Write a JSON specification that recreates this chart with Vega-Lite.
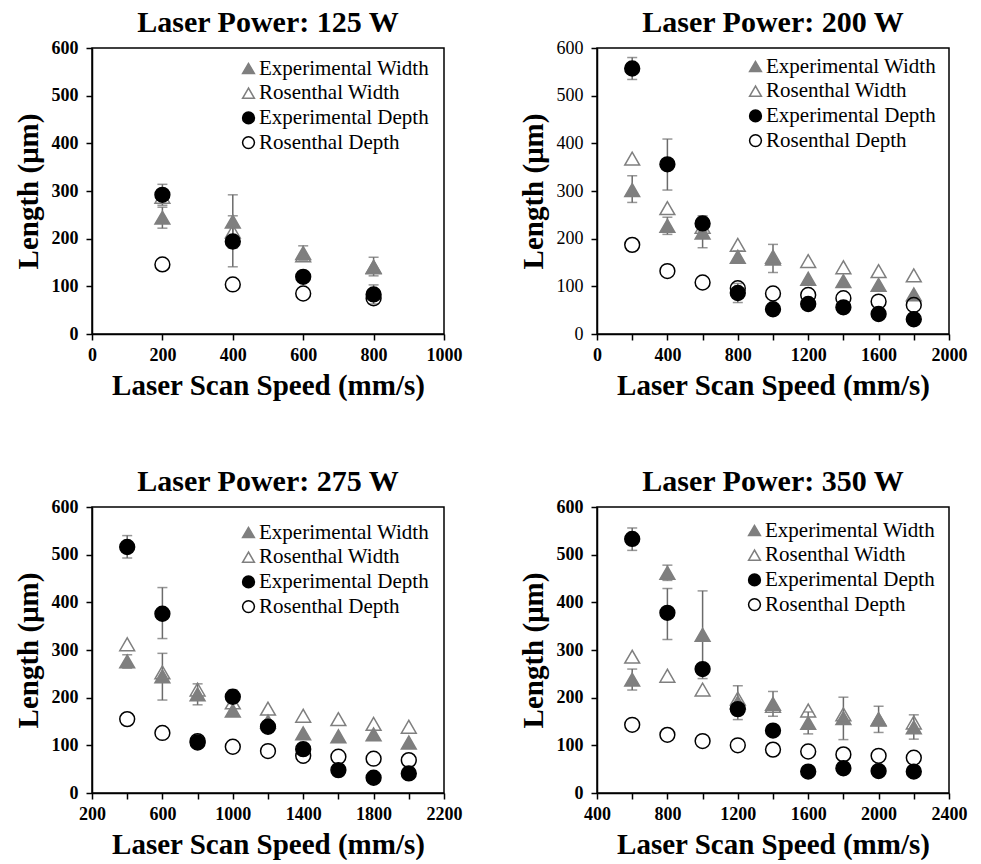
{
  "$schema": "https://vega.github.io/schema/vega-lite/v6.json",
  "padding": {"left": 13, "top": 7, "right": 5, "bottom": 0},
  "background": "white",
  "datasets": {
    "melt": [
      {"power": 125, "speed": 200, "series": "Experimental Width", "value": 244, "lo": 222, "hi": 266},
      {"power": 125, "speed": 400, "series": "Experimental Width", "value": 236, "lo": 180, "hi": 292},
      {"power": 125, "speed": 600, "series": "Experimental Width", "value": 170, "lo": 155, "hi": 185},
      {"power": 125, "speed": 800, "series": "Experimental Width", "value": 141, "lo": 122, "hi": 161},
      {"power": 125, "speed": 200, "series": "Rosenthal Width", "value": 288},
      {"power": 125, "speed": 400, "series": "Rosenthal Width", "value": 215},
      {"power": 125, "speed": 600, "series": "Rosenthal Width", "value": 165},
      {"power": 125, "speed": 800, "series": "Rosenthal Width", "value": 140},
      {"power": 125, "speed": 200, "series": "Experimental Depth", "value": 292, "lo": 270, "hi": 314},
      {"power": 125, "speed": 400, "series": "Experimental Depth", "value": 194, "lo": 141, "hi": 248},
      {"power": 125, "speed": 600, "series": "Experimental Depth", "value": 120},
      {"power": 125, "speed": 800, "series": "Experimental Depth", "value": 83, "lo": 63, "hi": 103},
      {"power": 125, "speed": 200, "series": "Rosenthal Depth", "value": 146},
      {"power": 125, "speed": 400, "series": "Rosenthal Depth", "value": 104},
      {"power": 125, "speed": 600, "series": "Rosenthal Depth", "value": 85},
      {"power": 125, "speed": 800, "series": "Rosenthal Depth", "value": 75},

      {"power": 200, "speed": 200, "series": "Experimental Width", "value": 302, "lo": 276, "hi": 332},
      {"power": 200, "speed": 400, "series": "Experimental Width", "value": 227, "lo": 209, "hi": 245},
      {"power": 200, "speed": 600, "series": "Experimental Width", "value": 213, "lo": 181, "hi": 245},
      {"power": 200, "speed": 800, "series": "Experimental Width", "value": 162, "lo": 150, "hi": 174},
      {"power": 200, "speed": 1000, "series": "Experimental Width", "value": 158, "lo": 129, "hi": 188},
      {"power": 200, "speed": 1200, "series": "Experimental Width", "value": 116},
      {"power": 200, "speed": 1400, "series": "Experimental Width", "value": 111},
      {"power": 200, "speed": 1600, "series": "Experimental Width", "value": 103},
      {"power": 200, "speed": 1800, "series": "Experimental Width", "value": 83},
      {"power": 200, "speed": 200, "series": "Rosenthal Width", "value": 368},
      {"power": 200, "speed": 400, "series": "Rosenthal Width", "value": 264},
      {"power": 200, "speed": 600, "series": "Rosenthal Width", "value": 225},
      {"power": 200, "speed": 800, "series": "Rosenthal Width", "value": 187},
      {"power": 200, "speed": 1000, "series": "Rosenthal Width", "value": 162},
      {"power": 200, "speed": 1200, "series": "Rosenthal Width", "value": 153},
      {"power": 200, "speed": 1400, "series": "Rosenthal Width", "value": 140},
      {"power": 200, "speed": 1600, "series": "Rosenthal Width", "value": 132},
      {"power": 200, "speed": 1800, "series": "Rosenthal Width", "value": 123},
      {"power": 200, "speed": 200, "series": "Experimental Depth", "value": 557, "lo": 534, "hi": 580},
      {"power": 200, "speed": 400, "series": "Experimental Depth", "value": 356, "lo": 302, "hi": 409},
      {"power": 200, "speed": 600, "series": "Experimental Depth", "value": 232, "lo": 216, "hi": 248},
      {"power": 200, "speed": 800, "series": "Experimental Depth", "value": 86, "lo": 66, "hi": 106},
      {"power": 200, "speed": 1000, "series": "Experimental Depth", "value": 52},
      {"power": 200, "speed": 1200, "series": "Experimental Depth", "value": 63},
      {"power": 200, "speed": 1400, "series": "Experimental Depth", "value": 56},
      {"power": 200, "speed": 1600, "series": "Experimental Depth", "value": 42},
      {"power": 200, "speed": 1800, "series": "Experimental Depth", "value": 31},
      {"power": 200, "speed": 200, "series": "Rosenthal Depth", "value": 187},
      {"power": 200, "speed": 400, "series": "Rosenthal Depth", "value": 132},
      {"power": 200, "speed": 600, "series": "Rosenthal Depth", "value": 108},
      {"power": 200, "speed": 800, "series": "Rosenthal Depth", "value": 96},
      {"power": 200, "speed": 1000, "series": "Rosenthal Depth", "value": 85},
      {"power": 200, "speed": 1200, "series": "Rosenthal Depth", "value": 82},
      {"power": 200, "speed": 1400, "series": "Rosenthal Depth", "value": 75},
      {"power": 200, "speed": 1600, "series": "Rosenthal Depth", "value": 68},
      {"power": 200, "speed": 1800, "series": "Rosenthal Depth", "value": 61},

      {"power": 275, "speed": 400, "series": "Experimental Width", "value": 276, "lo": 262, "hi": 290},
      {"power": 275, "speed": 600, "series": "Experimental Width", "value": 245, "lo": 195, "hi": 293},
      {"power": 275, "speed": 800, "series": "Experimental Width", "value": 207, "lo": 185, "hi": 229},
      {"power": 275, "speed": 1000, "series": "Experimental Width", "value": 173},
      {"power": 275, "speed": 1200, "series": "Experimental Width", "value": 150},
      {"power": 275, "speed": 1400, "series": "Experimental Width", "value": 125},
      {"power": 275, "speed": 1600, "series": "Experimental Width", "value": 119},
      {"power": 275, "speed": 1800, "series": "Experimental Width", "value": 123},
      {"power": 275, "speed": 2000, "series": "Experimental Width", "value": 106},
      {"power": 275, "speed": 400, "series": "Rosenthal Width", "value": 312},
      {"power": 275, "speed": 600, "series": "Rosenthal Width", "value": 253},
      {"power": 275, "speed": 800, "series": "Rosenthal Width", "value": 217},
      {"power": 275, "speed": 1000, "series": "Rosenthal Width", "value": 190},
      {"power": 275, "speed": 1200, "series": "Rosenthal Width", "value": 177},
      {"power": 275, "speed": 1400, "series": "Rosenthal Width", "value": 162},
      {"power": 275, "speed": 1600, "series": "Rosenthal Width", "value": 155},
      {"power": 275, "speed": 1800, "series": "Rosenthal Width", "value": 145},
      {"power": 275, "speed": 2000, "series": "Rosenthal Width", "value": 139},
      {"power": 275, "speed": 400, "series": "Experimental Depth", "value": 516, "lo": 493, "hi": 540},
      {"power": 275, "speed": 600, "series": "Experimental Depth", "value": 376, "lo": 324, "hi": 431},
      {"power": 275, "speed": 800, "series": "Experimental Depth", "value": 106},
      {"power": 275, "speed": 1000, "series": "Experimental Depth", "value": 202, "lo": 188, "hi": 216},
      {"power": 275, "speed": 1200, "series": "Experimental Depth", "value": 139},
      {"power": 275, "speed": 1400, "series": "Experimental Depth", "value": 92},
      {"power": 275, "speed": 1600, "series": "Experimental Depth", "value": 48},
      {"power": 275, "speed": 1800, "series": "Experimental Depth", "value": 32},
      {"power": 275, "speed": 2000, "series": "Experimental Depth", "value": 41},
      {"power": 275, "speed": 400, "series": "Rosenthal Depth", "value": 155},
      {"power": 275, "speed": 600, "series": "Rosenthal Depth", "value": 126},
      {"power": 275, "speed": 800, "series": "Rosenthal Depth", "value": 109},
      {"power": 275, "speed": 1000, "series": "Rosenthal Depth", "value": 97},
      {"power": 275, "speed": 1200, "series": "Rosenthal Depth", "value": 88},
      {"power": 275, "speed": 1400, "series": "Rosenthal Depth", "value": 78},
      {"power": 275, "speed": 1600, "series": "Rosenthal Depth", "value": 76},
      {"power": 275, "speed": 1800, "series": "Rosenthal Depth", "value": 72},
      {"power": 275, "speed": 2000, "series": "Rosenthal Depth", "value": 69},

      {"power": 350, "speed": 600, "series": "Experimental Width", "value": 238, "lo": 216, "hi": 260},
      {"power": 350, "speed": 800, "series": "Experimental Width", "value": 462, "lo": 446, "hi": 478},
      {"power": 350, "speed": 1000, "series": "Experimental Width", "value": 332, "lo": 240, "hi": 424},
      {"power": 350, "speed": 1200, "series": "Experimental Width", "value": 190, "lo": 154, "hi": 225},
      {"power": 350, "speed": 1400, "series": "Experimental Width", "value": 187, "lo": 161, "hi": 213},
      {"power": 350, "speed": 1600, "series": "Experimental Width", "value": 147, "lo": 124, "hi": 170},
      {"power": 350, "speed": 1800, "series": "Experimental Width", "value": 157, "lo": 112, "hi": 201},
      {"power": 350, "speed": 2000, "series": "Experimental Width", "value": 154, "lo": 127, "hi": 182},
      {"power": 350, "speed": 2200, "series": "Experimental Width", "value": 138, "lo": 113, "hi": 164},
      {"power": 350, "speed": 600, "series": "Rosenthal Width", "value": 286},
      {"power": 350, "speed": 800, "series": "Rosenthal Width", "value": 246},
      {"power": 350, "speed": 1000, "series": "Rosenthal Width", "value": 217},
      {"power": 350, "speed": 1200, "series": "Rosenthal Width", "value": 198},
      {"power": 350, "speed": 1400, "series": "Rosenthal Width", "value": 183},
      {"power": 350, "speed": 1600, "series": "Rosenthal Width", "value": 173},
      {"power": 350, "speed": 1800, "series": "Rosenthal Width", "value": 165},
      {"power": 350, "speed": 2000, "series": "Rosenthal Width", "value": 155},
      {"power": 350, "speed": 2200, "series": "Rosenthal Width", "value": 148},
      {"power": 350, "speed": 600, "series": "Experimental Depth", "value": 533, "lo": 509, "hi": 556},
      {"power": 350, "speed": 800, "series": "Experimental Depth", "value": 378, "lo": 322, "hi": 429},
      {"power": 350, "speed": 1000, "series": "Experimental Depth", "value": 260},
      {"power": 350, "speed": 1200, "series": "Experimental Depth", "value": 176},
      {"power": 350, "speed": 1400, "series": "Experimental Depth", "value": 131},
      {"power": 350, "speed": 1600, "series": "Experimental Depth", "value": 45},
      {"power": 350, "speed": 1800, "series": "Experimental Depth", "value": 52},
      {"power": 350, "speed": 2000, "series": "Experimental Depth", "value": 46},
      {"power": 350, "speed": 2200, "series": "Experimental Depth", "value": 45},
      {"power": 350, "speed": 600, "series": "Rosenthal Depth", "value": 143},
      {"power": 350, "speed": 800, "series": "Rosenthal Depth", "value": 122},
      {"power": 350, "speed": 1000, "series": "Rosenthal Depth", "value": 109},
      {"power": 350, "speed": 1200, "series": "Rosenthal Depth", "value": 100},
      {"power": 350, "speed": 1400, "series": "Rosenthal Depth", "value": 91},
      {"power": 350, "speed": 1600, "series": "Rosenthal Depth", "value": 87},
      {"power": 350, "speed": 1800, "series": "Rosenthal Depth", "value": 81},
      {"power": 350, "speed": 2000, "series": "Rosenthal Depth", "value": 78},
      {"power": 350, "speed": 2200, "series": "Rosenthal Depth", "value": 74}
    ]
  },
  "data": {"name": "melt"},
  "columns": 2,
  "spacing": {"column": 55, "row": 65},
  "resolve": {
    "scale": {"shape": "independent", "fill": "independent", "stroke": "independent"},
    "legend": {"shape": "independent", "fill": "independent", "stroke": "independent"}
  },
  "concat": [
    {
      "title": "Laser Power: 125 W",
      "width": 352, "height": 286,
      "transform": [{"filter": "datum.power === 125"}],
      "encoding": {
        "x": {"field": "speed", "type": "quantitative", "title": "Laser Scan Speed (mm/s)",
              "scale": {"domain": [0, 1000], "nice": false, "zero": false},
              "axis": {"values": [0, 200, 400, 600, 800, 1000], "format": "d"}}
      },
      "layer": [
        {"transform": [{"filter": "isValid(datum.lo)"}],
         "mark": {"type": "rule", "color": "#6b6b6b", "strokeWidth": 1.5},
         "encoding": {"y": {"field": "lo", "type": "quantitative", "title": "Length (μm)", "scale": {"domain": [0, 600]}}, "y2": {"field": "hi"}}},
        {"transform": [{"filter": "isValid(datum.lo)"}],
         "mark": {"type": "tick", "orient": "horizontal", "color": "#6b6b6b", "thickness": 1.5, "size": 10},
         "encoding": {"y": {"field": "lo", "type": "quantitative", "title": "Length (μm)", "scale": {"domain": [0, 600]}}}},
        {"transform": [{"filter": "isValid(datum.hi)"}],
         "mark": {"type": "tick", "orient": "horizontal", "color": "#6b6b6b", "thickness": 1.5, "size": 10},
         "encoding": {"y": {"field": "hi", "type": "quantitative", "title": "Length (μm)", "scale": {"domain": [0, 600]}}}},
        {"mark": {"type": "point", "opacity": 1, "strokeWidth": 1.5, "size": 220},
         "encoding": {
           "y": {"field": "value", "type": "quantitative", "title": "Length (μm)", "scale": {"domain": [0, 600]}, "axis": {"values": [0, 100, 200, 300, 400, 500, 600]}},
           "shape": {"field": "series", "type": "nominal", "scale": {"domain": ["Experimental Width", "Rosenthal Width", "Experimental Depth", "Rosenthal Depth"], "range": ["triangle-up", "triangle-up", "circle", "circle"]}, "legend": {"title": null, "legendX": 146, "legendY": 10}},
           "fill": {"field": "series", "type": "nominal", "scale": {"domain": ["Experimental Width", "Rosenthal Width", "Experimental Depth", "Rosenthal Depth"], "range": ["#7f7f7f", "transparent", "#000000", "transparent"]}, "legend": {"title": null, "legendX": 146, "legendY": 10}},
           "stroke": {"field": "series", "type": "nominal", "scale": {"domain": ["Experimental Width", "Rosenthal Width", "Experimental Depth", "Rosenthal Depth"], "range": ["#7f7f7f", "#7f7f7f", "#000000", "#000000"]}, "legend": {"title": null, "legendX": 146, "legendY": 10}}
         }}
      ]
    },
    {
      "title": "Laser Power: 200 W",
      "width": 352, "height": 286,
      "transform": [{"filter": "datum.power === 200"}],
      "encoding": {
        "x": {"field": "speed", "type": "quantitative", "title": "Laser Scan Speed (mm/s)",
              "scale": {"domain": [0, 2000], "nice": false, "zero": false},
              "axis": {"values": [0, 200, 400, 600, 800, 1000, 1200, 1400, 1600, 1800, 2000], "format": "d", "labelExpr": "datum.value % 400 === 0 ? datum.label : ''"}}
      },
      "layer": [
        {"transform": [{"filter": "isValid(datum.lo)"}],
         "mark": {"type": "rule", "color": "#6b6b6b", "strokeWidth": 1.5},
         "encoding": {"y": {"field": "lo", "type": "quantitative", "title": "Length (μm)", "scale": {"domain": [0, 600]}}, "y2": {"field": "hi"}}},
        {"transform": [{"filter": "isValid(datum.lo)"}],
         "mark": {"type": "tick", "orient": "horizontal", "color": "#6b6b6b", "thickness": 1.5, "size": 10},
         "encoding": {"y": {"field": "lo", "type": "quantitative", "title": "Length (μm)", "scale": {"domain": [0, 600]}}}},
        {"transform": [{"filter": "isValid(datum.hi)"}],
         "mark": {"type": "tick", "orient": "horizontal", "color": "#6b6b6b", "thickness": 1.5, "size": 10},
         "encoding": {"y": {"field": "hi", "type": "quantitative", "title": "Length (μm)", "scale": {"domain": [0, 600]}}}},
        {"mark": {"type": "point", "opacity": 1, "strokeWidth": 1.5, "size": 220},
         "encoding": {
           "y": {"field": "value", "type": "quantitative", "title": "Length (μm)", "scale": {"domain": [0, 600]}, "axis": {"values": [0, 100, 200, 300, 400, 500, 600], "labelFontWeight": "normal"}},
           "shape": {"field": "series", "type": "nominal", "scale": {"domain": ["Experimental Width", "Rosenthal Width", "Experimental Depth", "Rosenthal Depth"], "range": ["triangle-up", "triangle-up", "circle", "circle"]}, "legend": {"title": null, "legendX": 148, "legendY": 8}},
           "fill": {"field": "series", "type": "nominal", "scale": {"domain": ["Experimental Width", "Rosenthal Width", "Experimental Depth", "Rosenthal Depth"], "range": ["#7f7f7f", "transparent", "#000000", "transparent"]}, "legend": {"title": null, "legendX": 148, "legendY": 8}},
           "stroke": {"field": "series", "type": "nominal", "scale": {"domain": ["Experimental Width", "Rosenthal Width", "Experimental Depth", "Rosenthal Depth"], "range": ["#7f7f7f", "#7f7f7f", "#000000", "#000000"]}, "legend": {"title": null, "legendX": 148, "legendY": 8}}
         }}
      ]
    },
    {
      "title": "Laser Power: 275 W",
      "width": 352, "height": 286,
      "transform": [{"filter": "datum.power === 275"}],
      "encoding": {
        "x": {"field": "speed", "type": "quantitative", "title": "Laser Scan Speed (mm/s)",
              "scale": {"domain": [200, 2200], "nice": false, "zero": false},
              "axis": {"values": [200, 400, 600, 800, 1000, 1200, 1400, 1600, 1800, 2000, 2200], "format": "d", "labelExpr": "(datum.value - 200) % 400 === 0 ? datum.label : ''"}}
      },
      "layer": [
        {"transform": [{"filter": "isValid(datum.lo)"}],
         "mark": {"type": "rule", "color": "#6b6b6b", "strokeWidth": 1.5},
         "encoding": {"y": {"field": "lo", "type": "quantitative", "title": "Length (μm)", "scale": {"domain": [0, 600]}}, "y2": {"field": "hi"}}},
        {"transform": [{"filter": "isValid(datum.lo)"}],
         "mark": {"type": "tick", "orient": "horizontal", "color": "#6b6b6b", "thickness": 1.5, "size": 10},
         "encoding": {"y": {"field": "lo", "type": "quantitative", "title": "Length (μm)", "scale": {"domain": [0, 600]}}}},
        {"transform": [{"filter": "isValid(datum.hi)"}],
         "mark": {"type": "tick", "orient": "horizontal", "color": "#6b6b6b", "thickness": 1.5, "size": 10},
         "encoding": {"y": {"field": "hi", "type": "quantitative", "title": "Length (μm)", "scale": {"domain": [0, 600]}}}},
        {"mark": {"type": "point", "opacity": 1, "strokeWidth": 1.5, "size": 220},
         "encoding": {
           "y": {"field": "value", "type": "quantitative", "title": "Length (μm)", "scale": {"domain": [0, 600]}, "axis": {"values": [0, 100, 200, 300, 400, 500, 600]}},
           "shape": {"field": "series", "type": "nominal", "scale": {"domain": ["Experimental Width", "Rosenthal Width", "Experimental Depth", "Rosenthal Depth"], "range": ["triangle-up", "triangle-up", "circle", "circle"]}, "legend": {"title": null, "legendX": 146, "legendY": 15}},
           "fill": {"field": "series", "type": "nominal", "scale": {"domain": ["Experimental Width", "Rosenthal Width", "Experimental Depth", "Rosenthal Depth"], "range": ["#7f7f7f", "transparent", "#000000", "transparent"]}, "legend": {"title": null, "legendX": 146, "legendY": 15}},
           "stroke": {"field": "series", "type": "nominal", "scale": {"domain": ["Experimental Width", "Rosenthal Width", "Experimental Depth", "Rosenthal Depth"], "range": ["#7f7f7f", "#7f7f7f", "#000000", "#000000"]}, "legend": {"title": null, "legendX": 146, "legendY": 15}}
         }}
      ]
    },
    {
      "title": "Laser Power: 350 W",
      "width": 352, "height": 286,
      "transform": [{"filter": "datum.power === 350"}],
      "encoding": {
        "x": {"field": "speed", "type": "quantitative", "title": "Laser Scan Speed (mm/s)",
              "scale": {"domain": [400, 2400], "nice": false, "zero": false},
              "axis": {"values": [400, 600, 800, 1000, 1200, 1400, 1600, 1800, 2000, 2200, 2400], "format": "d", "labelExpr": "datum.value % 400 === 0 ? datum.label : ''"}}
      },
      "layer": [
        {"transform": [{"filter": "isValid(datum.lo)"}],
         "mark": {"type": "rule", "color": "#6b6b6b", "strokeWidth": 1.5},
         "encoding": {"y": {"field": "lo", "type": "quantitative", "title": "Length (μm)", "scale": {"domain": [0, 600]}}, "y2": {"field": "hi"}}},
        {"transform": [{"filter": "isValid(datum.lo)"}],
         "mark": {"type": "tick", "orient": "horizontal", "color": "#6b6b6b", "thickness": 1.5, "size": 10},
         "encoding": {"y": {"field": "lo", "type": "quantitative", "title": "Length (μm)", "scale": {"domain": [0, 600]}}}},
        {"transform": [{"filter": "isValid(datum.hi)"}],
         "mark": {"type": "tick", "orient": "horizontal", "color": "#6b6b6b", "thickness": 1.5, "size": 10},
         "encoding": {"y": {"field": "hi", "type": "quantitative", "title": "Length (μm)", "scale": {"domain": [0, 600]}}}},
        {"mark": {"type": "point", "opacity": 1, "strokeWidth": 1.5, "size": 220},
         "encoding": {
           "y": {"field": "value", "type": "quantitative", "title": "Length (μm)", "scale": {"domain": [0, 600]}, "axis": {"values": [0, 100, 200, 300, 400, 500, 600]}},
           "shape": {"field": "series", "type": "nominal", "scale": {"domain": ["Experimental Width", "Rosenthal Width", "Experimental Depth", "Rosenthal Depth"], "range": ["triangle-up", "triangle-up", "circle", "circle"]}, "legend": {"title": null, "legendX": 147, "legendY": 13}},
           "fill": {"field": "series", "type": "nominal", "scale": {"domain": ["Experimental Width", "Rosenthal Width", "Experimental Depth", "Rosenthal Depth"], "range": ["#7f7f7f", "transparent", "#000000", "transparent"]}, "legend": {"title": null, "legendX": 147, "legendY": 13}},
           "stroke": {"field": "series", "type": "nominal", "scale": {"domain": ["Experimental Width", "Rosenthal Width", "Experimental Depth", "Rosenthal Depth"], "range": ["#7f7f7f", "#7f7f7f", "#000000", "#000000"]}, "legend": {"title": null, "legendX": 147, "legendY": 13}}
         }}
      ]
    }
  ],
  "config": {
    "font": "Liberation Serif",
    "view": {"stroke": "black", "strokeWidth": 1.5},
    "axis": {
      "grid": false, "domainColor": "black", "domainWidth": 1.5,
      "tickColor": "black", "tickWidth": 1.5, "tickSize": 6,
      "labelFont": "Liberation Serif", "labelFontSize": 18, "labelFontWeight": "bold", "labelColor": "black",
      "titleFont": "Liberation Serif", "titleFontSize": 29, "titleFontWeight": "bold", "titleColor": "black",
      "labelFlush": false, "labelOverlap": false
    },
    "axisX": {"labelPadding": 6, "titlePadding": 7},
    "axisY": {"labelPadding": 8, "titlePadding": 8},
    "title": {"font": "Liberation Serif", "fontSize": 30, "fontWeight": "bold", "color": "black", "anchor": "middle", "frame": "group", "offset": 1},
    "legend": {
      "orient": "none", "labelFont": "Liberation Serif", "labelFontSize": 21, "labelColor": "black", "labelLimit": 400,
      "symbolSize": 140, "symbolStrokeWidth": 1.5, "labelOffset": 0, "rowPadding": 2.7, "padding": 0
    }
  }
}
